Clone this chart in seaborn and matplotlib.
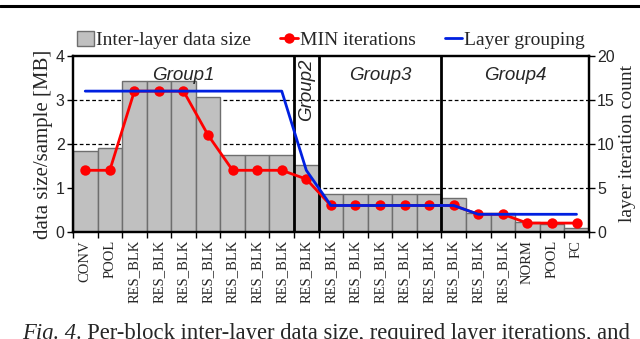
import matplotlib
matplotlib.use("Agg")
import matplotlib.pyplot as plt
import matplotlib.lines as mlines
import matplotlib.patches as mpatches
import seaborn as sns
import numpy as np

# ── data ───────────────────────────────────────────────────────────────────
layers = ["CONV", "POOL",
          "RES_BLK", "RES_BLK", "RES_BLK", "RES_BLK", "RES_BLK", "RES_BLK",
          "RES_BLK", "RES_BLK", "RES_BLK", "RES_BLK", "RES_BLK", "RES_BLK",
          "RES_BLK", "RES_BLK", "RES_BLK", "RES_BLK",
          "NORM", "POOL", "FC"]
data_size = [1.83, 1.91, 3.44, 3.44, 3.44, 3.07, 1.74, 1.74, 1.74, 1.52,
             0.86, 0.86, 0.86, 0.86, 0.86, 0.77, 0.43, 0.43, 0.22, 0.19, 0.08]
min_iters = [7, 7, 16, 16, 16, 11, 7, 7, 7, 6,
             3, 3, 3, 3, 3, 3, 2, 2, 1, 1, 1]
grouping = [16, 16, 16, 16, 16, 16, 16, 16, 16, 7,
            3, 3, 3, 3, 3, 3, 2, 2, 2, 2, 2]
group_names = ["Group1", "Group2", "Group3", "Group4"]
group_first = [0, 9, 10, 15]
group_last = [8, 9, 14, 20]

SERIF = "Liberation Serif"
SANS = "Liberation Sans"

sns.set_theme(style="white")
plt.rcParams["font.family"] = [SERIF, "DejaVu Serif"]

fig = plt.figure(figsize=(6.4, 3.39), dpi=100)
ax = fig.add_axes([0.114, 0.316, 0.806, 0.519])

idx = np.arange(len(layers))
sns.barplot(x=idx, y=data_size, width=1.0, color="#c0c0c0",
            saturation=1, edgecolor="#6e6e6e", linewidth=1.0, ax=ax, zorder=2)

ax.set_xlim(-0.5, len(layers) - 0.5)
ax.set_ylim(0, 4)
ax.set_yticks([0, 1, 2, 3, 4])
ax.set_yticklabels(["0", "1", "2", "3", "4"], family=SANS, fontsize=11.5)
for yv in [1, 2, 3]:
    ax.axhline(yv, color="black", ls=(0, (3, 2)), lw=0.9, zorder=0)

ax.set_xticks(idx)
ax.set_xticklabels(layers, rotation=90, fontsize=10.5, family=SERIF)
ax.set_xticks(np.arange(-0.5, len(layers), 1.0), minor=True)
ax.tick_params(axis="x", which="major", length=0, pad=6)
ax.tick_params(axis="x", which="minor", length=4, width=1, color="black",
               direction="out", bottom=True)
ax.tick_params(axis="y", length=4, width=1, color="black", direction="out",
               left=True, pad=2)
ax.set_ylabel("data size/sample [MB]", fontsize=15, family=SERIF, labelpad=2)
ax.set_xlabel("")
for sp in ax.spines.values():
    sp.set_color("black")
    sp.set_linewidth(1.6)

# group separators and names
for g in range(len(group_names) - 1):
    ax.axvline(group_last[g] + 0.5, color="black", lw=2.0, zorder=5)
for name, a, b in zip(group_names, group_first, group_last):
    cx = (a + b) / 2
    if a == b:
        ax.text(cx, 3.22, name, rotation=90, ha="center", va="center",
                fontsize=13.5, style="italic", family=SANS, zorder=6)
    else:
        ax.text(cx, 3.56, name, ha="center", va="center",
                fontsize=13.5, style="italic", family=SANS, zorder=6)

# iteration lines on the right axis
ax2 = ax.twinx()
sns.lineplot(x=idx, y=min_iters, color="#ff0000", lw=2.0, marker="o",
             markersize=7.5, markeredgewidth=0, ax=ax2, zorder=3)
sns.lineplot(x=idx, y=grouping, color="#0020e0", lw=2.0, ax=ax2, zorder=4)
ax2.set_ylim(0, 20)
ax2.set_xlim(-0.5, len(layers) - 0.5)
ax2.set_yticks([0, 5, 10, 15, 20])
ax2.set_yticklabels(["0", "5", "10", "15", "20"], family=SANS, fontsize=11.5)
ax2.tick_params(axis="y", length=4, width=1, color="black", direction="out",
                right=True, pad=2)
ax2.set_ylabel("layer iteration count", fontsize=14, family=SERIF,
               rotation=90, labelpad=3)
for sp in ax2.spines.values():
    sp.set_color("black")
    sp.set_linewidth(1.6)

# legend above the axes
handles = [
    mpatches.Patch(facecolor="#c0c0c0", edgecolor="#6e6e6e", lw=1.0),
    mlines.Line2D([], [], color="#ff0000", lw=2.0, marker="o",
                  markersize=7.5, markeredgewidth=0),
    mlines.Line2D([], [], color="#0020e0", lw=2.0),
]
ax.legend(handles, ["Inter-layer data size", "MIN iterations", "Layer grouping"],
          loc="lower center", bbox_to_anchor=(0.5, 0.985), ncol=3,
          frameon=False, handlelength=0.9, handleheight=0.8,
          handletextpad=0.1, columnspacing=1.5, borderaxespad=0.1,
          prop={"family": SERIF, "size": 14})

# page fragments: rule above, caption below (cut by the page edge, as in the source)
fig.add_artist(mlines.Line2D([0, 1], [1 - 5.5 / 339, 1 - 5.5 / 339],
                             color="black", lw=2.2,
                             transform=fig.transFigure))
cap = fig.text(22 / 640, 1 - 323 / 339, "Fig. 4", style="italic",
               fontsize=16.3, family=SERIF, va="top", ha="left")
fig.canvas.draw()
bb = cap.get_window_extent()
fig.text(bb.x1 / fig.bbox.width, 1 - 323 / 339,
         ". Per-block inter-layer data size, required layer iterations, and",
         fontsize=16.3, family=SERIF, va="top", ha="left")

fig.savefig("out.png", dpi=100)
